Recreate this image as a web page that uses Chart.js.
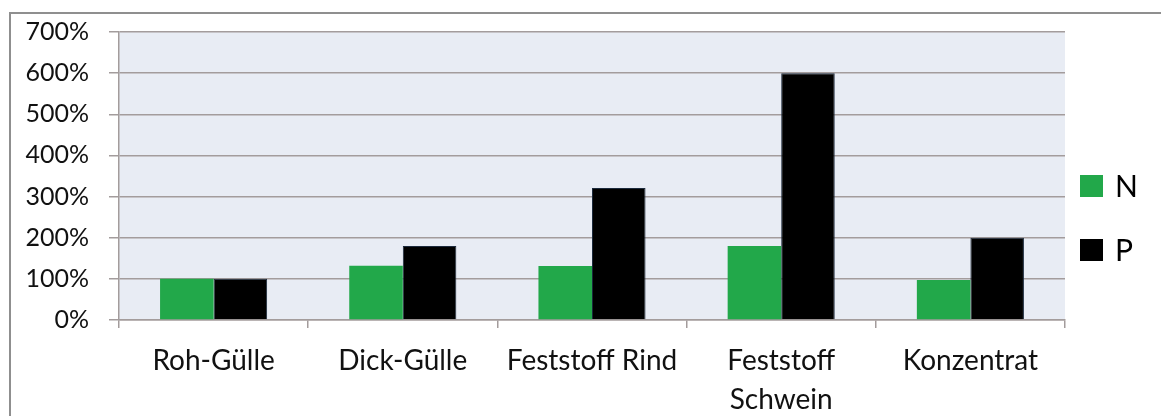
<!DOCTYPE html>
<html>
<head>
<meta charset="utf-8">
<script src="https://cdn.jsdelivr.net/npm/chart.js@4.4.1/dist/chart.umd.min.js"></script>
<style>
  html, body { margin: 0; padding: 0; background: #fff; }
  #wrap { width: 1161px; height: 416px; position: relative; }
</style>
</head>
<body>
<div id="wrap"><canvas id="chart"></canvas></div>
<script>
  // data
  const categories = ["Roh-Gülle", "Dick-Gülle", "Feststoff Rind", ["Feststoff", "Schwein"], "Konzentrat"];
  const valuesN = [100, 132, 131, 180, 97];
  const valuesP = [100, 180, 321, 600, 200];
  const yTicks = [0, 100, 200, 300, 400, 500, 600, 700];

  const green = "#22a84a";
  const gridColor = "#a39c9c";
  const fontFamily = "Lato, 'Open Sans', sans-serif";

  // plot background and the gray frame round the picture
  const backdrop = {
    id: "backdrop",
    beforeDraw(chart) {
      const ctx = chart.ctx;
      const a = chart.chartArea;
      ctx.save();
      ctx.fillStyle = "#e8ecf4";
      ctx.fillRect(a.left, a.top, a.right - a.left, a.bottom - a.top);
      ctx.strokeStyle = "#8f8f8f";
      ctx.lineWidth = 2;
      ctx.beginPath();
      ctx.moveTo(10, chart.height);
      ctx.lineTo(10, 13);
      ctx.lineTo(chart.width, 13);
      ctx.stroke();
      ctx.restore();
    }
  };

  // legend on the right, square boxes with big letters
  const sideLegend = {
    id: "sideLegend",
    afterDraw(chart) {
      const ctx = chart.ctx;
      const a = chart.chartArea;
      const mid = (a.top + a.bottom) / 2 + 42;
      ctx.save();
      ctx.font = "30px " + fontFamily;
      ctx.textBaseline = "middle";
      chart.data.datasets.forEach((ds, i) => {
        const y = mid + (i - 0.5) * 64;
        const x = a.right + 15;
        ctx.fillStyle = ds.backgroundColor;
        ctx.fillRect(x, y - 11, 23, 22);
        ctx.fillStyle = "#000";
        ctx.fillText(ds.label, x + 35, y + 1);
      });
      ctx.restore();
    }
  };

  new Chart(document.getElementById("chart"), {
    type: "bar",
    data: {
      labels: categories,
      datasets: [
        { label: "N", data: valuesN, backgroundColor: green, borderWidth: 0 },
        { label: "P", data: valuesP, backgroundColor: "#000000", borderColor: "#1c2a3c", borderWidth: 1 }
      ]
    },
    options: {
      responsive: true,
      maintainAspectRatio: false,
      animation: false,
      categoryPercentage: 0.566,
      barPercentage: 1,
      layout: { padding: { left: 0, top: 32, right: 96, bottom: 0 } },
      plugins: {
        tooltip: { enabled: false },
        legend: { display: false }
      },
      scales: {
        x: {
          afterFit(scale) { scale.height = 96; },
          grid: { drawOnChartArea: false, color: gridColor, tickLength: 8, lineWidth: 1.5 },
          border: { color: gridColor, width: 1.5 },
          ticks: { color: "#111", padding: 13, maxRotation: 0, autoSkip: false,
                   font: { family: fontFamily, size: 28, lineHeight: 1.4 } }
        },
        y: {
          min: 0,
          max: 700,
          afterFit(scale) { scale.width = 119; scale.paddingTop = 0; },
          afterBuildTicks(axis) { axis.ticks = yTicks.map(v => ({ value: v })); },
          grid: { color: gridColor, tickLength: 10, lineWidth: 1.5 },
          border: { color: gridColor, width: 1.5 },
          ticks: { color: "#111", padding: 20, callback: v => v + "%",
                   font: { family: fontFamily, size: 25 } }
        }
      }
    },
    plugins: [backdrop, sideLegend]
  });
</script>
</body>
</html>
